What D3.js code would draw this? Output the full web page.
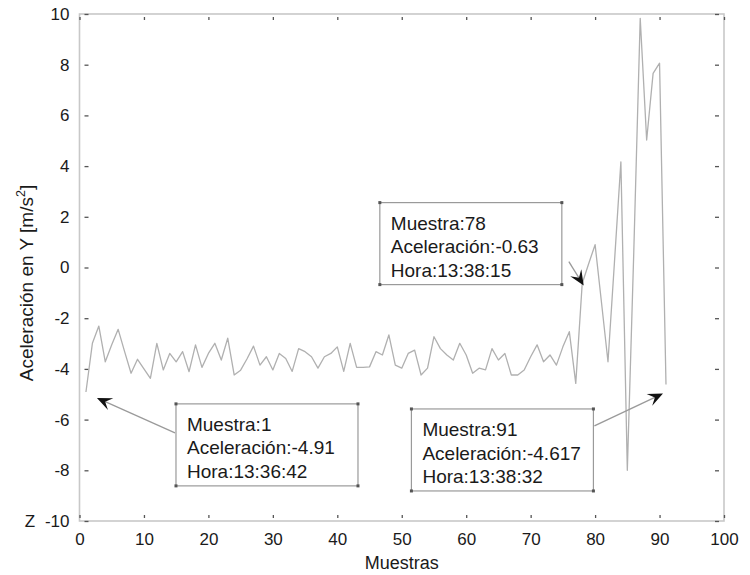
<!DOCTYPE html>
<html>
<head>
<meta charset="utf-8">
<script src="https://cdn.jsdelivr.net/npm/d3@7/dist/d3.min.js"></script>
<style>
  body { margin: 0; background: #fff; }
  svg { display: block; }
  text { font-family: "Liberation Sans", Arial, sans-serif; fill: #1a1a1a; }
</style>
</head>
<body>
<svg id="chart" width="750" height="575"></svg>
<script>
// ---------- data ----------
const samples = d3.range(1, 92); // Muestras 1..91
const accelY = [
  -4.91, -2.99, -2.31, -3.72, -3.05, -2.44, -3.32, -4.17, -3.62, -4.00,
  -4.37, -2.99, -4.04, -3.39, -3.72, -3.32, -4.11, -3.05, -3.94, -3.39,
  -2.99, -3.65, -2.79, -4.24, -4.05, -3.60, -3.10, -3.85, -3.52, -4.04,
  -3.39, -3.59, -4.10, -3.20, -3.32, -3.52, -3.97, -3.52, -3.39, -3.13,
  -4.10, -2.99, -3.94, -3.94, -3.92, -3.32, -3.45, -2.66, -3.85, -3.97,
  -3.39, -3.26, -4.24, -3.97, -2.73, -3.20, -3.45, -3.65, -2.99, -3.45,
  -4.17, -3.97, -4.04, -3.20, -3.65, -3.39, -4.24, -4.24, -4.04, -3.52,
  -3.05, -3.72, -3.45, -3.85, -3.13, -2.53, -4.57, -0.63, 0.15, 0.90,
  -1.40, -3.72, 0.20, 4.17, -8.00, 0.60, 9.83, 5.03, 7.66, 8.06,
  -4.617
];
const xTicks = [0, 10, 20, 30, 40, 50, 60, 70, 80, 90, 100];
const yTicks = [-10, -8, -6, -4, -2, 0, 2, 4, 6, 8, 10];
const xDomain = [0, 100];
const yDomain = [-10, 10];
const xLabel = "Muestras";
const yLabel = "Aceleración en Y [m/s";
const yLabelSup = "2";
const yLabelEnd = "]";
const strayLabel = "Z";

// data tips: sample index, time, and box anchor (top-left, data units)
const tipSamples = [1, 78, 91];
const tipTimes = ["13:36:42", "13:38:15", "13:38:32"];
const tipAccelText = ["-4.91", "-0.63", "-4.617"];
const tipBoxX = [14.97, 46.6, 51.5];
const tipBoxY = [-5.38, 2.56, -5.58];

// ---------- layout ----------
const svg = d3.select("#chart");
const pL = 79.5, pR = 724, pT = 14, pB = 521;

const x = d3.scaleLinear().domain(xDomain).range([pL, pR]);
const y = d3.scaleLinear().domain(yDomain).range([pB, pT]);

const axisColor = "#c8c8c8";
const tickColor = "#555";
const fmt = d => String(d);

// frame
svg.append("rect")
  .attr("x", pL).attr("y", pT)
  .attr("width", pR - pL).attr("height", pB - pT)
  .attr("fill", "none").attr("stroke", axisColor).attr("stroke-width", 1.6);

function styleAxis(g) {
  g.select(".domain").remove();
  g.selectAll(".tick line").attr("stroke", tickColor).attr("stroke-width", 1.3);
  g.selectAll(".tick text")
    .style("font-family", '"Liberation Sans", Arial, sans-serif')
    .style("font-size", "17px").attr("fill", "#1a1a1a");
}

// bottom
svg.append("g").attr("transform", `translate(0,${pB})`)
  .call(d3.axisBottom(x).tickValues(xTicks).tickFormat(fmt)
    .tickSizeInner(-5).tickSizeOuter(0).tickPadding(12))
  .call(styleAxis)
  .call(g => g.selectAll(".tick line").attr("y1", -3).attr("y2", -6));
// top
svg.append("g").attr("transform", `translate(0,${pT})`)
  .call(d3.axisTop(x).tickValues(xTicks).tickFormat("")
    .tickSizeInner(-5).tickSizeOuter(0))
  .call(styleAxis)
  .call(g => g.selectAll(".tick line").attr("y1", 3).attr("y2", 6));
// left
svg.append("g").attr("transform", `translate(${pL},0)`)
  .call(d3.axisLeft(y).tickValues(yTicks).tickFormat(fmt)
    .tickSizeInner(-5).tickSizeOuter(0).tickPadding(10))
  .call(styleAxis)
  .call(g => g.selectAll(".tick line").attr("x1", 5).attr("x2", 9));
// right
svg.append("g").attr("transform", `translate(${pR},0)`)
  .call(d3.axisRight(y).tickValues(yTicks).tickFormat("")
    .tickSizeInner(-5).tickSizeOuter(0))
  .call(styleAxis)
  .call(g => g.selectAll(".tick line").attr("x1", -5).attr("x2", -9));

// line
const line = d3.line().x((d, i) => x(samples[i])).y(d => y(d));
svg.append("path").datum(accelY)
  .attr("d", line)
  .attr("fill", "none")
  .attr("stroke", "#b0b0b0")
  .attr("stroke-width", 1.3)
  .attr("stroke-linejoin", "round");

// labels
svg.append("text")
  .attr("x", (pL + pR) / 2).attr("y", 569)
  .attr("text-anchor", "middle").style("font-size", "18px")
  .text(xLabel);

const yl = svg.append("text")
  .attr("transform", `translate(33,283) rotate(-90)`)
  .attr("text-anchor", "middle").style("font-size", "19px");
yl.append("tspan").text(yLabel);
yl.append("tspan").attr("dy", -8).style("font-size", "12.5px").text(yLabelSup);
yl.append("tspan").attr("dy", 8).text(yLabelEnd);

svg.append("text").attr("x", 30).attr("y", 527)
  .attr("text-anchor", "middle").style("font-size", "17px").text(strayLabel);

// ---------- data tips ----------
const boxW = 182, boxH = 82;
const tips = svg.append("g");

function arrow(g, x1, y1, x2, y2) {
  const dx = x2 - x1, dy = y2 - y1, len = Math.hypot(dx, dy);
  const ux = dx / len, uy = dy / len, nx = -uy, ny = ux;
  const L = 15, W = 6.5, N = 9;
  g.append("line")
    .attr("x1", x1).attr("y1", y1)
    .attr("x2", x2 - ux * N).attr("y2", y2 - uy * N)
    .attr("stroke", "#9a9a9a").attr("stroke-width", 1.3);
  const pts = [
    [x2, y2],
    [x2 - ux * L + nx * W, y2 - uy * L + ny * W],
    [x2 - ux * N, y2 - uy * N],
    [x2 - ux * L - nx * W, y2 - uy * L - ny * W]
  ];
  g.append("path").attr("d", "M" + pts.map(p => p.join(",")).join("L") + "Z")
    .attr("fill", "#111");
}

tipSamples.forEach((s, k) => {
  const bx = x(tipBoxX[k]), by = y(tipBoxY[k]);
  const px = x(s), py = y(accelY[s - 1]);
  const g = tips.append("g");

  let tx, ty, hx, hy;
  if (k === 0) { tx = bx - 1; ty = by + 29; hx = px + 11; hy = py + 6; }
  else if (k === 1) { tx = bx + boxW + 7; ty = by + 59; hx = px + 1.5; hy = py + 2; }
  else { tx = bx + boxW + 1; ty = by + 17; hx = px - 3; hy = py + 9; }
  arrow(g, tx, ty, hx, hy);

  g.append("rect")
    .attr("x", bx).attr("y", by).attr("width", boxW).attr("height", boxH)
    .attr("fill", "#fff").attr("stroke", "#9a9a9a").attr("stroke-width", 1.2);
  [[bx, by], [bx + boxW, by], [bx, by + boxH], [bx + boxW, by + boxH]].forEach(c => {
    g.append("rect").attr("x", c[0] - 1.5).attr("y", c[1] - 1.5)
      .attr("width", 3).attr("height", 3).attr("fill", "#555");
  });
  const lines = ["Muestra:" + s, "Aceleración:" + tipAccelText[k], "Hora:" + tipTimes[k]];
  lines.forEach((t, j) => {
    g.append("text")
      .attr("x", bx + 11).attr("y", by + 27 + j * 23.6)
      .style("font-size", "19px")
      .text(t);
  });
});
</script>
</body>
</html>
